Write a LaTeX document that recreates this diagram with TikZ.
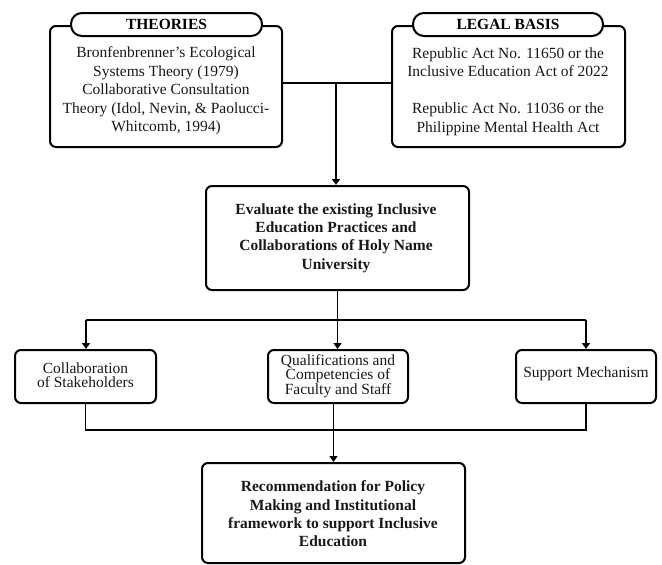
\documentclass[tikz,border=0pt]{standalone}
\usepackage{fontspec}
\setmainfont{Liberation Serif}
\usetikzlibrary{arrows.meta}
\begin{document}
\begin{tikzpicture}[x=1pt,y=-1pt,
  boxshape/.style={draw=black,line width=2pt,rounded corners=6pt,fill=white,inner sep=0pt},
  pill/.style={draw=black,line width=2pt,rounded corners=11pt,fill=white,inner sep=0pt,
     minimum height=23pt,font=\fontsize{15.5}{18.5}\selectfont\bfseries},
  txt/.style={align=center,inner sep=0pt,text=black!90,font=\fontsize{15.5}{18.5}\selectfont},
  btxt/.style={txt,font=\fontsize{15.5}{18.3}\selectfont\bfseries},
  stxt/.style={txt,font=\fontsize{15.5}{14}\selectfont},
  conn/.style={line width=1.7pt,black},
  arr/.style={conn,-{Triangle[width=8pt,length=6pt]}}
]
\useasboundingbox (0,0) rectangle (662,565);

% top boxes
\node[boxshape,minimum width=232pt,minimum height=121pt] (theo) at (166,86.5) {};
\node[pill,minimum width=191pt] (theot) at (166.5,24.5) {THEORIES};
\node[txt] (theotxt) at (166,91) {Bronfenbrenner’s Ecological\\Systems Theory (1979)\\Collaborative Consultation\\Theory (Idol, Nevin, \& Paolucci-\\Whitcomb, 1994)};

\node[boxshape,minimum width=233pt,minimum height=121pt] (legal) at (508.5,86.5) {};
\node[pill,minimum width=190pt] (legalt) at (508,24.5) {LEGAL BASIS};
\node[txt] (legaltxt) at (508,91.5) {Republic Act No. 11650 or the\\Inclusive Education Act of 2022\\[18.5pt]Republic Act No. 11036 or the\\Philippine Mental Health Act};

% evaluate box
\node[boxshape,minimum width=263pt,minimum height=104pt] (eval) at (337.5,238) {};
\node[btxt] (evaltxt) at (336,238) {Evaluate the existing Inclusive\\Education Practices and\\Collaborations of Holy Name\\University};

% middle row
\node[boxshape,minimum width=141pt,minimum height=53pt] (collab) at (85.5,376.5) {};
\node[stxt] (collabtxt) at (85.5,375) {Collaboration\\of Stakeholders};
\node[boxshape,minimum width=140pt,minimum height=53pt] (qual) at (338,376.5) {};
\node[stxt] (qualtxt) at (338,376) {Qualifications and\\Competencies of\\Faculty and Staff};
\node[boxshape,minimum width=140pt,minimum height=53pt] (supp) at (586,376.5) {};
\node[stxt] (supptxt) at (586,374) {Support Mechanism};

% recommendation
\node[boxshape,minimum width=263pt,minimum height=100pt] (rec) at (333.5,513) {};
\node[btxt] (rectxt) at (333,514) {Recommendation for Policy\\Making and Institutional\\framework to support Inclusive\\Education};

% connectors
\coordinate (j1) at (336,83);
\coordinate (h1) at (86,320);
\coordinate (h2) at (586,320);
\coordinate (h3) at (86,430);

\draw[conn] ([yshift=3.5pt]theo.east) -- ([yshift=3.5pt]legal.west);
\draw[arr] (j1) -- (j1 |- eval.north);
\draw[arr] (eval.south) -- (eval.south |- qual.north);
\draw[conn] (h1) -- (h2);
\draw[arr] (h1) -- (h1 |- collab.north);
\draw[arr] (h2) -- (h2 |- supp.north);
\draw[conn] (collab.south) -- (collab.south |- h3) -- (supp.south |- h3) -- (supp.south);
\draw[arr] (rec.north |- qual.south) -- (rec.north);
\end{tikzpicture}
\end{document}
